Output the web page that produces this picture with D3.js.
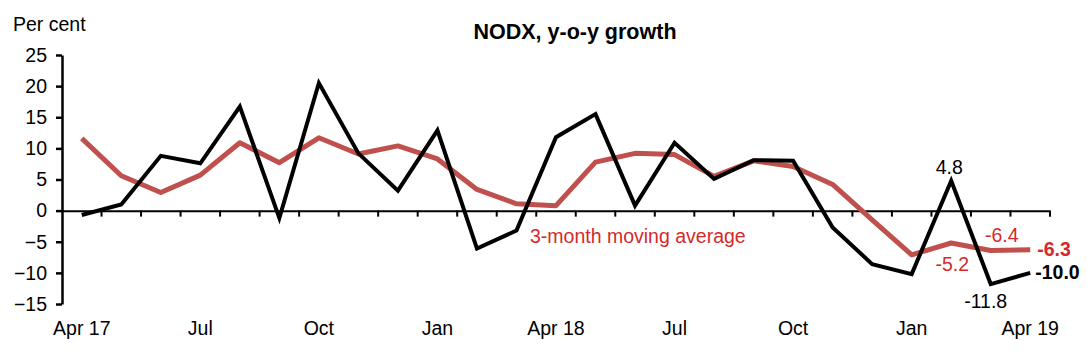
<!DOCTYPE html>
<html><head><meta charset="utf-8">
<script src="https://cdn.jsdelivr.net/npm/d3@7"></script>
<style>body{margin:0;background:#fff}svg{font-family:"Liberation Sans",Arial,sans-serif}</style>
</head><body><svg id="c" width="1087" height="357"></svg>
<script>
const months = ["Apr 17","May 17","Jun 17","Jul 17","Aug 17","Sep 17","Oct 17","Nov 17","Dec 17","Jan 18","Feb 18","Mar 18","Apr 18","May 18","Jun 18","Jul 18","Aug 18","Sep 18","Oct 18","Nov 18","Dec 18","Jan 19","Feb 19","Mar 19","Apr 19"];
const nodx = [-0.7,1.0,8.8,7.6,16.7,-1.2,20.5,9.2,3.2,12.9,-6.1,-3.2,11.8,15.5,0.8,10.9,5.1,8.1,8.0,-2.7,-8.6,-10.2,4.8,-11.8,-10.0];
const mavg = [11.6,5.6,2.9,5.7,10.9,7.7,11.7,9.1,10.4,8.3,3.4,1.1,0.8,7.8,9.2,9.0,5.5,8.0,7.1,4.2,-1.5,-7.1,-5.2,-6.4,-6.3];
const xTickLabels = {"Apr 17":"Apr 17","Jul 17":"Jul","Oct 17":"Oct","Jan 18":"Jan","Apr 18":"Apr 18","Jul 18":"Jul","Oct 18":"Oct","Jan 19":"Jan","Apr 19":"Apr 19"};
const yTicks = [25,20,15,10,5,0,-5,-10,-15];

const svg = d3.select("#c");
const x = d3.scaleBand().domain(months).range([62,1050]).padding(0);
const y = d3.scaleLinear().domain([-15,25]).range([304,55]);
const cx = m => x(m) + x.bandwidth()/2;
const FS = 19.5;

// title
svg.append("text").attr("x",575).attr("y",39).attr("text-anchor","middle")
  .attr("font-weight","bold").attr("font-size",21.5).text("NODX, y-o-y growth");
svg.append("text").attr("x",13).attr("y",31).attr("font-size",FS).text("Per cent");

// y axis
const ya = svg.append("g").attr("transform","translate(62,0)")
  .call(d3.axisLeft(y).tickValues(yTicks).tickSize(6).tickSizeOuter(0));
ya.select(".domain").attr("stroke","#000").attr("stroke-width",2.5);
ya.selectAll(".tick line").attr("stroke","#000").attr("stroke-width",2.5);
ya.selectAll(".tick text").attr("font-size",FS).attr("fill","#000").attr("x",-15).attr("font-family","Liberation Sans, Arial, sans-serif");

// x axis at zero
const xa = svg.append("g").attr("transform",`translate(0,${y(0)})`)
  .call(d3.axisBottom(x).tickSize(0).tickFormat(""));
xa.select(".domain").attr("stroke","#000").attr("stroke-width",2);
const bounds = months.map(m => x(m)).concat([x(months[months.length-1])+x.bandwidth()]).slice(1);
svg.append("g").selectAll("line").data(bounds).join("line")
  .attr("x1",d=>d).attr("x2",d=>d).attr("y1",y(0)).attr("y2",y(0)+6)
  .attr("stroke","#000").attr("stroke-width",2);
// x labels
svg.append("g").selectAll("text").data(months.filter(m=>xTickLabels[m]!==undefined)).join("text")
  .attr("x",m=>cx(m)).attr("y",335).attr("text-anchor","middle").attr("font-size",FS)
  .text(m=>xTickLabels[m]);

const line = d3.line().x((d,i)=>cx(months[i])).y(d=>y(d));
svg.append("path").datum(mavg).attr("d",line).attr("fill","none")
  .attr("stroke","#c0504d").attr("stroke-width",5).attr("stroke-linejoin","round");
svg.append("path").datum(nodx).attr("d",line).attr("fill","none")
  .attr("stroke","#000").attr("stroke-width",4).attr("stroke-linejoin","miter");

const red = "#d42a2a";
svg.append("text").attr("x",530).attr("y",243).attr("font-size",FS).attr("fill",red).text("3-month moving average");
const n = months.length;
const lbl = (t,xx,yy,opt={}) => svg.append("text").attr("x",xx).attr("y",yy).attr("font-size",FS)
  .attr("text-anchor",opt.anchor||"middle").attr("fill",opt.fill||"#000")
  .attr("font-weight",opt.bold?"bold":"normal").text(t);
lbl(nodx[22].toFixed(1), cx(months[22])-2, y(nodx[22])-7);
lbl(mavg[22].toFixed(1), cx(months[22])+1, y(mavg[22])+28, {fill:red});
lbl(mavg[23].toFixed(1), cx(months[23])+11, y(mavg[23])-8, {fill:red});
lbl(nodx[23].toFixed(1), cx(months[23])-5, y(nodx[23])+24);
lbl(mavg[24].toFixed(1), cx(months[n-1])+7, y(mavg[24])+6, {fill:red, bold:true, anchor:"start"});
lbl(nodx[24].toFixed(1), cx(months[n-1])+5, y(nodx[24])+6, {bold:true, anchor:"start"});
</script></body></html>
